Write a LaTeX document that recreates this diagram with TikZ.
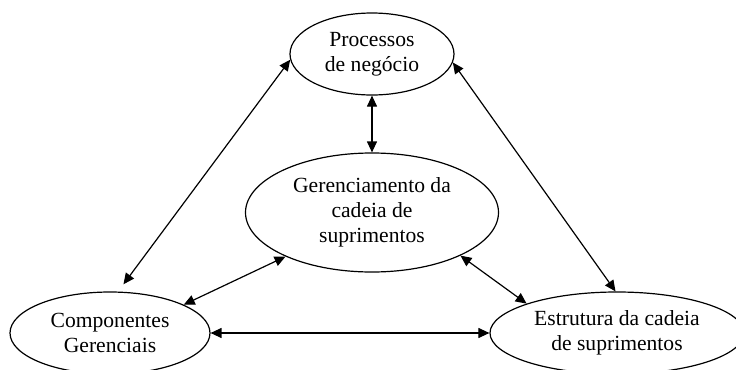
\documentclass[tikz,border=0pt]{standalone}
\usepackage{fontspec}
\setmainfont{Liberation Serif}
\usetikzlibrary{shapes.geometric,arrows.meta}

\begin{document}
\begin{tikzpicture}[x=0.5pt,y=-0.5pt,
        elip/.style={draw,ellipse,inner sep=0pt,align=center,line width=0.6pt,font=\fontsize{10.8}{12.5}\selectfont},
        seta/.style={{Triangle[length=5.5pt,width=5pt]}-{Triangle[length=5.5pt,width=5pt]},line width=0.6pt}]
        \useasboundingbox (0,0) rectangle (736,370);
        \node[elip,minimum width=82pt,minimum height=41pt] (proc) at (372,54) {Processos\\de negócio};
        \node[elip,minimum width=126.5pt,minimum height=59.5pt] (ger) at (372,212.5) {Gerenciamento da\\cadeia de\\suprimentos};
        \node[elip,minimum width=100pt,minimum height=41pt] (comp) at (110,333) {Componentes\\Gerenciais};
        \node[elip,minimum width=127pt,minimum height=41pt] (est) at (617,333) {Estrutura da cadeia\\de suprimentos};
        \draw[seta] (proc) -- (ger);
        \draw[seta,shorten >=4.5pt] (proc.184) -- (comp.79);
        \draw[seta] (proc.354) -- (est.92);
        \draw[seta] (ger.207) -- (comp.21);
        \draw[seta] (ger.334) -- (est.162);
        \draw[seta] (comp) -- (est);
    \end{tikzpicture}
\end{document}
